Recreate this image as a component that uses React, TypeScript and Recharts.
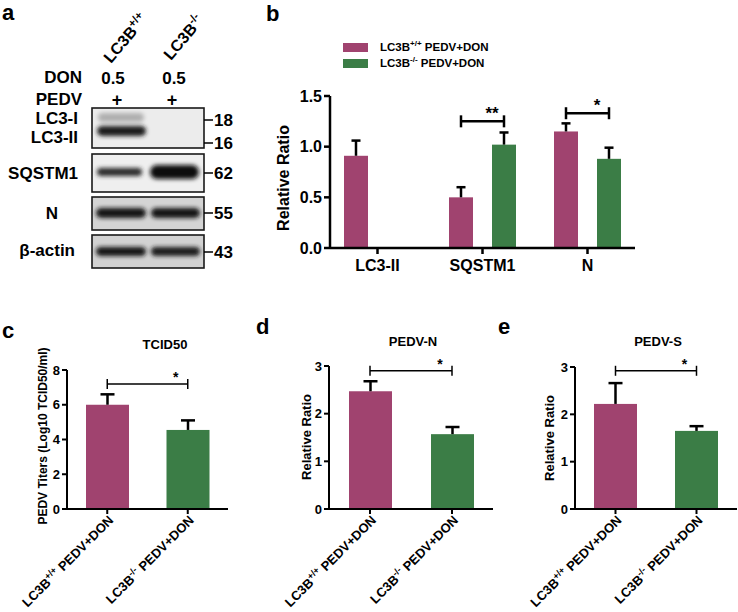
import { BarChart, Bar, XAxis, YAxis, ReferenceLine, Legend } from 'recharts';

const FONT = '"Liberation Sans", Arial, Helvetica, sans-serif';
const PINK = '#A0436F';
const GREEN = '#3B7D46';
const COLORS = [PINK, GREEN];

// panel b: western blot quantification
const B_CATEGORIES = ['LC3-II', 'SQSTM1', 'N'];
const B_SERIES = ['LC3B+/+ PEDV+DON', 'LC3B-/- PEDV+DON'];
const B_WT = [0.91, 0.5, 1.15];
const B_WT_ERR = [0.15, 0.1, 0.08];
const B_KO = [0, 1.02, 0.88];
const B_KO_ERR = [0, 0.12, 0.11];
const B_TICKS = [0, 0.5, 1.0, 1.5];
const B_SIG = [
  { cat: 'SQSTM1', y: 1.25, mark: '**' },
  { cat: 'N', y: 1.33, mark: '*' },
];

// panels c, d, e
const GROUPS = ['LC3B+/+ PEDV+DON', 'LC3B-/- PEDV+DON'];
const C_VALUES = [6.0, 4.55];
const C_ERR = [0.6, 0.55];
const C_TICKS = [0, 2, 4, 6, 8];
const D_VALUES = [2.47, 1.57];
const D_ERR = [0.21, 0.15];
const D_TICKS = [0, 1, 2, 3];
const E_VALUES = [2.22, 1.65];
const E_ERR = [0.44, 0.1];
const E_TICKS = [0, 1, 2, 3];

// splits "LC3B+/+ PEDV+DON" into base, superscript and rest
function splitLabel(s: string) {
  const [head, ...rest] = s.split(' ');
  return { base: head.slice(0, 4), sup: head.slice(4), rest: rest.length ? ' ' + rest.join(' ') : '' };
}

function SupText({ label, size, ...p }: any) {
  const { base, sup, rest } = splitLabel(label);
  return (
    <text fontFamily={FONT} fontWeight="bold" fontSize={size} fill="#000" {...p}>
      {base}
      <tspan dy={-size * 0.4} fontSize={size * 0.7}>{sup}</tspan>
      <tspan dy={size * 0.4}>{rest}</tspan>
    </text>
  );
}

function barWithError(valKey: string, errKey: string, capW: number, lw: number, color?: string) {
  return (props: any) => {
    const { x, y, width, height, payload } = props;
    const v = payload[valKey];
    if (!v || !height) return <g />;
    const fill = color ?? COLORS[GROUPS.indexOf(payload.name)];
    const errPx = (payload[errKey] * height) / v;
    const cx = x + width / 2;
    return (
      <g>
        <rect x={x} y={y} width={width} height={height} fill={fill} />
        {errPx > 0 && (
          <g stroke="#000" strokeWidth={lw}>
            <line x1={cx} x2={cx} y1={y} y2={y - errPx} />
            <line x1={cx - capW / 2} x2={cx + capW / 2} y1={y - errPx} y2={y - errPx} />
          </g>
        )}
      </g>
    );
  };
}

function bracket(mark: string, dl: number, dr: number, capH: number, lw: number, fs: number) {
  return (props: any) => {
    const { x1, y1, x2 } = props;
    const a = x1 + dl;
    const b = x2 + dr;
    return (
      <g stroke="#000" strokeWidth={lw}>
        <line x1={a} x2={b} y1={y1} y2={y1} />
        <line x1={a} x2={a} y1={y1 - capH} y2={y1 + capH} />
        <line x1={b} x2={b} y1={y1 - capH} y2={y1 + capH} />
        <text x={b - 12} y={y1 - 2} textAnchor="middle" stroke="none" fill="#000" fontFamily={FONT} fontWeight="bold" fontSize={fs}>
          {mark}
        </text>
      </g>
    );
  };
}

const RotTick = (props: any) => {
  const { x, y, payload } = props;
  return (
    <g transform={`translate(${x + 7},${y + 5}) rotate(-45)`}>
      <SupText label={payload.value} size={13} textAnchor="end" />
    </g>
  );
};

function BLegend(props: any) {
  const { payload = [] } = props;
  return (
    <div style={{ fontFamily: FONT }}>
      {payload.map((p: any, i: number) => (
        <div key={i} style={{ display: 'flex', alignItems: 'center', height: 16 }}>
          <span style={{ display: 'inline-block', width: 25, height: 9, background: p.color, marginRight: 12 }} />
          <svg width={130} height={16}>
            <SupText label={p.value} size={11.5} x={0} y={12} />
          </svg>
        </div>
      ))}
    </div>
  );
}

function PanelB() {
  const data = B_CATEGORIES.map((name, i) => ({
    name,
    wt: B_WT[i],
    wtErr: B_WT_ERR[i],
    ko: B_KO[i],
    koErr: B_KO_ERR[i],
  }));
  const axis = { stroke: '#000', strokeWidth: 2.5 };
  return (
    <div style={{ position: 'absolute', left: 260, top: 0 }}>
      <BarChart width={390} height={290} data={data} margin={{ top: 96, right: 15, bottom: 0, left: 0 }} barSize={24} barGap={19}>
        <XAxis
          dataKey="name"
          padding={{ left: -5, right: -5 }}
          height={42}
          axisLine={axis}
          tickLine={axis}
          tickSize={6}
          tickMargin={6}
          tick={{ fontSize: 16, fontWeight: 700, fill: '#000', fontFamily: FONT }}
          interval={0}
        />
        <YAxis
          domain={[0, 1.5]}
          ticks={B_TICKS}
          width={70}
          axisLine={axis}
          tickLine={axis}
          tickSize={6}
          tickMargin={2}
          tickFormatter={(v: number) => v.toFixed(1)}
          tick={{ fontSize: 16, fontWeight: 700, fill: '#000', fontFamily: FONT }}
        />
        <Legend
          layout="vertical"
          align="center"
          verticalAlign="middle"
          content={<BLegend />}
          wrapperStyle={{ position: 'absolute', top: 39, left: 83, width: 200 }}
        />
        <Bar dataKey="wt" name={B_SERIES[0]} fill={PINK} isAnimationActive={false} shape={barWithError('wt', 'wtErr', 9, 2.5, PINK)} />
        <Bar dataKey="ko" name={B_SERIES[1]} fill={GREEN} isAnimationActive={false} shape={barWithError('ko', 'koErr', 9, 2.5, GREEN)} />
        {B_SIG.map((s) => (
          <ReferenceLine
            key={s.cat}
            segment={[{ x: s.cat, y: s.y }, { x: s.cat, y: s.y }]}
            shape={bracket(s.mark, -21.5, 21.5, 6, 2.5, 17)}
          />
        ))}
      </BarChart>
    </div>
  );
}

function SmallPanel({ left, top, width, yWidth, marginTop, marginRight, values, errs, ticks, sigY }: any) {
  const data = GROUPS.map((name, i) => ({ name, value: values[i], err: errs[i] }));
  const axis = { stroke: '#000', strokeWidth: 2 };
  const max = ticks[ticks.length - 1];
  return (
    <div style={{ position: 'absolute', left, top }}>
      <BarChart width={width} height={292} data={data} margin={{ top: marginTop, right: marginRight, bottom: 0, left: 0 }} barSize={43}>
        <XAxis dataKey="name" height={103} axisLine={axis} tickLine={axis} tickSize={5} tickMargin={2} tick={<RotTick />} interval={0} />
        <YAxis
          domain={[0, max]}
          ticks={ticks}
          width={yWidth}
          axisLine={axis}
          tickLine={axis}
          tickSize={5}
          tickMargin={2}
          tick={{ fontSize: 13, fontWeight: 700, fill: '#000', fontFamily: FONT }}
        />
        <Bar dataKey="value" isAnimationActive={false} shape={barWithError('value', 'err', 14, 2.5)} />
        <ReferenceLine segment={[{ x: GROUPS[0], y: sigY }, { x: GROUPS[1], y: sigY }]} shape={bracket('*', 0, 0, 5, 1.5, 14)} />
      </BarChart>
    </div>
  );
}

const T = (p: any) => <text fontFamily={FONT} fontWeight="bold" fill="#000" {...p} />;

function Band({ x, y, w, h, c, o = 1 }: any) {
  return <rect x={x} y={y} width={w} height={h} rx={h / 2} fill={c} opacity={o} filter="url(#blur)" />;
}

function Blot() {
  const boxes = [
    { y: 108, h: 40, bg: '#ececec' },
    { y: 154, h: 38, bg: '#efefef' },
    { y: 197, h: 33, bg: '#d4d4d4' },
    { y: 235, h: 33, bg: '#d2d2d2' },
  ];
  const markers = [
    { y: 120, t: '18' },
    { y: 143, t: '16' },
    { y: 173, t: '62' },
    { y: 213, t: '55' },
    { y: 252, t: '43' },
  ];
  return (
    <g>
      <defs>
        <filter id="blur" x="-20%" y="-80%" width="140%" height="260%">
          <feGaussianBlur stdDeviation="2" />
        </filter>
      </defs>
      {boxes.map((b, i) => (
        <rect key={i} x={92} y={b.y} width={112} height={b.h} fill={b.bg} stroke="#1a1a1a" strokeWidth={1.6} />
      ))}
      <Band x={98} y={113} w={46} h={9} c="#666" o={0.45} />
      <Band x={97} y={126} w={49} h={10} c="#1c1c1c" />
      <Band x={97} y={168} w={45} h={8} c="#2a2a2a" />
      <Band x={150} y={165} w={49} h={14} c="#111" />
      <Band x={96} y={208} w={50} h={10} c="#151515" />
      <Band x={151} y={208} w={49} h={10} c="#181818" />
      <Band x={96} y={247} w={50} h={9} c="#151515" />
      <Band x={151} y={247} w={49} h={9} c="#1a1a1a" />
      {markers.map((m) => (
        <g key={m.t}>
          <line x1={204} x2={213} y1={m.y} y2={m.y} stroke="#000" strokeWidth={1.5} />
          <T x={214} y={m.y + 6} fontSize={17}>{m.t}</T>
        </g>
      ))}
      <g transform="translate(111,64) rotate(-50)">
        <SupText label="LC3B+/+" size={16} />
      </g>
      <g transform="translate(171,61) rotate(-50)">
        <SupText label="LC3B-/-" size={16} />
      </g>
      <T x={82} y={83} fontSize={17} textAnchor="end">DON</T>
      <T x={113} y={84} fontSize={17} textAnchor="middle">0.5</T>
      <T x={174} y={84} fontSize={17} textAnchor="middle">0.5</T>
      <T x={82} y={105} fontSize={17} textAnchor="end">PEDV</T>
      <T x={117} y={106} fontSize={18} textAnchor="middle">+</T>
      <T x={172} y={106} fontSize={18} textAnchor="middle">+</T>
      <T x={78} y={124} fontSize={17} textAnchor="end">LC3-I</T>
      <T x={78} y={143} fontSize={17} textAnchor="end">LC3-II</T>
      <T x={78} y={179} fontSize={17} textAnchor="end">SQSTM1</T>
      <T x={52} y={219} fontSize={17} textAnchor="middle">N</T>
      <T x={75} y={256} fontSize={17} textAnchor="end">β-actin</T>
    </g>
  );
}

function Overlay() {
  return (
    <svg width={738} height={612} style={{ position: 'absolute', left: 0, top: 0, pointerEvents: 'none' }}>
      <T x={2} y={20} fontSize={22}>a</T>
      <T x={266} y={21} fontSize={22}>b</T>
      <T x={2} y={338} fontSize={22}>c</T>
      <T x={256} y={334} fontSize={22}>d</T>
      <T x={498} y={334} fontSize={22}>e</T>
      <Blot />
      <T x={165} y={349} fontSize={13} textAnchor="middle">TCID50</T>
      <T x={413} y={346} fontSize={13} textAnchor="middle">PEDV-N</T>
      <T x={658} y={346} fontSize={13} textAnchor="middle">PEDV-S</T>
      <T x={0} y={0} fontSize={16} textAnchor="middle" transform="translate(289,178) rotate(-90)">Relative Ratio</T>
      <T x={0} y={0} fontSize={12} textAnchor="middle" transform="translate(47,436) rotate(-90)">PEDV Titers (Log10 TCID50/ml)</T>
      <T x={0} y={0} fontSize={13} textAnchor="middle" transform="translate(311,437) rotate(-90)">Relative Ratio</T>
      <T x={0} y={0} fontSize={13} textAnchor="middle" transform="translate(554,438) rotate(-90)">Relative Ratio</T>
    </svg>
  );
}

export default function App() {
  return (
    <div style={{ position: 'fixed', left: 0, top: 0, width: 738, height: 612, background: '#fff', fontFamily: FONT }}>
      <PanelB />
      <SmallPanel left={0} top={320} width={240} yWidth={67} marginTop={50} marginRight={12} values={C_VALUES} errs={C_ERR} ticks={C_TICKS} sigY={7.2} />
      <SmallPanel left={250} top={320} width={250} yWidth={79} marginTop={46} marginRight={7} values={D_VALUES} errs={D_ERR} ticks={D_TICKS} sigY={2.9} />
      <SmallPanel left={490} top={320} width={248} yWidth={85} marginTop={47} marginRight={1} values={E_VALUES} errs={E_ERR} ticks={E_TICKS} sigY={2.92} />
      <Overlay />
    </div>
  );
}
